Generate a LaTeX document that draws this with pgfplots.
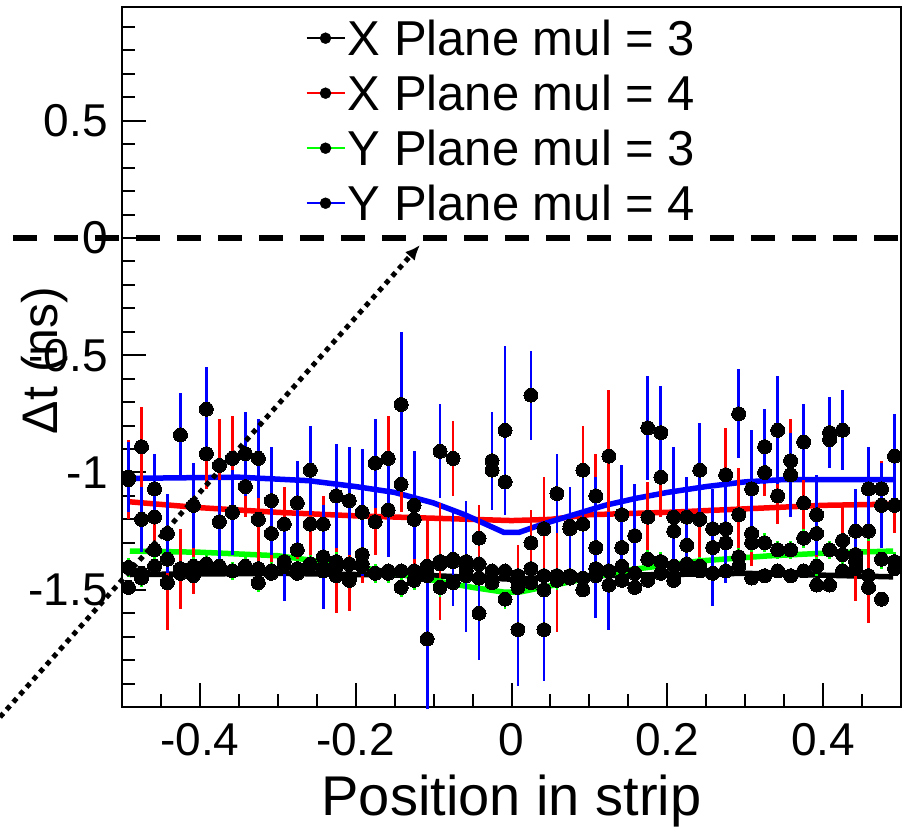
\documentclass[border=0pt]{standalone}
\usepackage{fontspec}
\setmainfont{Liberation Sans}
\usepackage{pgfplots}
\usepackage{pgfplotstable}
\pgfplotsset{compat=1.18}
\usetikzlibrary{arrows.meta}

\pgfplotstableread{
x y e
-0.4917 -1.02 0.15
-0.4750 -1.20 0.14
-0.4583 -1.07 0.15
-0.4417 -1.26 0.17
-0.4250 -0.84 0.18
-0.4083 -1.14 0.18
-0.3917 -0.73 0.18
-0.3750 -1.21 0.18
-0.3583 -1.17 0.18
-0.3417 -0.92 0.18
-0.3250 -0.94 0.17
-0.3083 -1.12 0.23
-0.2917 -1.38 0.17
-0.2750 -1.13 0.18
-0.2583 -0.99 0.19
-0.2417 -1.36 0.22
-0.2250 -1.10 0.22
-0.2083 -1.12 0.23
-0.1917 -1.17 0.27
-0.1750 -0.96 0.19
-0.1583 -1.16 0.20
-0.1417 -0.71 0.31
-0.1250 -1.14 0.23
-0.1083 -1.71 0.30
-0.0917 -0.91 0.20
-0.0750 -1.37 0.20
-0.0583 -1.40 0.28
-0.0417 -1.60 0.20
-0.0250 -0.95 0.21
-0.0083 -0.82 0.36
0.0083 -1.67 0.24
0.0250 -0.67 0.19
0.0417 -1.67 0.22
0.0583 -1.09 0.17
0.0750 -1.24 0.18
0.0917 -1.22 0.20
0.1083 -1.32 0.30
0.1250 -1.42 0.25
0.1417 -1.18 0.21
0.1583 -1.27 0.22
0.1750 -0.81 0.22
0.1917 -0.83 0.20
0.2083 -1.19 0.30
0.2250 -1.19 0.17
0.2417 -0.99 0.20
0.2583 -1.32 0.25
0.2750 -1.24 0.23
0.2917 -0.75 0.19
0.3083 -1.07 0.25
0.3250 -0.89 0.16
0.3417 -0.82 0.23
0.3583 -1.01 0.18
0.3750 -0.87 0.16
0.3917 -1.18 0.17
0.4083 -0.83 0.15
0.4250 -0.82 0.17
0.4417 -1.25 0.18
0.4583 -1.07 0.18
0.4750 -1.14 0.18
0.4917 -0.93 0.18
}\blueData

\pgfplotstableread{
x y e
-0.4917 -1.03 0.17
-0.4750 -0.89 0.17
-0.4583 -1.19 0.12
-0.4417 -1.47 0.20
-0.4250 -1.41 0.17
-0.4083 -1.42 0.10
-0.3917 -0.92 0.15
-0.3750 -0.97 0.20
-0.3583 -0.94 0.18
-0.3417 -1.06 0.13
-0.3250 -1.20 0.20
-0.3083 -1.26 0.15
-0.2917 -1.22 0.16
-0.2750 -1.33 0.13
-0.2583 -1.22 0.14
-0.2417 -1.22 0.12
-0.2250 -1.44 0.16
-0.2083 -1.46 0.13
-0.1917 -1.35 0.12
-0.1750 -1.21 0.14
-0.1583 -0.94 0.18
-0.1417 -1.05 0.12
-0.1250 -1.20 0.24
-0.1083 -1.40 0.20
-0.0917 -1.38 0.25
-0.0750 -0.94 0.16
-0.0583 -1.38 0.20
-0.0417 -1.28 0.14
-0.0250 -0.99 0.12
-0.0083 -1.04 0.13
0.0083 -1.47 0.16
0.0250 -1.30 0.14
0.0417 -1.24 0.22
0.0583 -1.44 0.24
0.0750 -1.23 0.14
0.0917 -0.99 0.19
0.1083 -1.10 0.18
0.1250 -0.93 0.28
0.1417 -1.32 0.10
0.1583 -1.27 0.15
0.1750 -1.19 0.15
0.1917 -1.02 0.17
0.2083 -1.25 0.12
0.2250 -1.31 0.12
0.2417 -1.20 0.16
0.2583 -1.24 0.14
0.2750 -1.01 0.20
0.2917 -1.18 0.20
0.3083 -1.26 0.14
0.3250 -1.00 0.10
0.3417 -1.10 0.12
0.3583 -0.95 0.18
0.3750 -1.13 0.12
0.3917 -1.26 0.16
0.4083 -0.86 0.12
0.4250 -1.29 0.16
0.4417 -1.38 0.17
0.4583 -1.44 0.20
0.4750 -1.07 0.12
0.4917 -1.14 0.12
}\redData

\pgfplotstableread{
x y e
-0.4917 -1.405 0.04
-0.4750 -1.45 0.04
-0.4583 -1.33 0.04
-0.4417 -1.37 0.04
-0.4250 -1.42 0.04
-0.4083 -1.40 0.04
-0.3917 -1.39 0.04
-0.3750 -1.40 0.04
-0.3583 -1.42 0.04
-0.3417 -1.40 0.04
-0.3250 -1.47 0.04
-0.3083 -1.42 0.04
-0.2917 -1.38 0.04
-0.2750 -1.41 0.04
-0.2583 -1.39 0.04
-0.2417 -1.41 0.04
-0.2250 -1.38 0.04
-0.2083 -1.45 0.04
-0.1917 -1.39 0.04
-0.1750 -1.43 0.04
-0.1583 -1.43 0.04
-0.1417 -1.49 0.04
-0.1250 -1.46 0.04
-0.1083 -1.44 0.04
-0.0917 -1.49 0.04
-0.0750 -1.47 0.04
-0.0583 -1.44 0.04
-0.0417 -1.45 0.04
-0.0250 -1.47 0.04
-0.0083 -1.54 0.04
0.0083 -1.49 0.04
0.0250 -1.47 0.04
0.0417 -1.50 0.04
0.0583 -1.46 0.04
0.0750 -1.44 0.04
0.0917 -1.45 0.04
0.1083 -1.41 0.04
0.1250 -1.48 0.04
0.1417 -1.40 0.04
0.1583 -1.43 0.04
0.1750 -1.37 0.04
0.1917 -1.38 0.04
0.2083 -1.40 0.04
0.2250 -1.39 0.04
0.2417 -1.40 0.04
0.2583 -1.43 0.04
0.2750 -1.30 0.04
0.2917 -1.36 0.04
0.3083 -1.30 0.04
0.3250 -1.30 0.04
0.3417 -1.33 0.04
0.3583 -1.33 0.04
0.3750 -1.28 0.04
0.3917 -1.40 0.04
0.4083 -1.33 0.04
0.4250 -1.35 0.04
0.4417 -1.35 0.04
0.4583 -1.25 0.04
0.4750 -1.37 0.04
0.4917 -1.38 0.04
}\greenData

\pgfplotstableread{
x y e
-0.4917 -1.49 0.03
-0.4750 -1.43 0.03
-0.4583 -1.40 0.03
-0.4417 -1.47 0.03
-0.4250 -1.43 0.03
-0.4083 -1.44 0.03
-0.3917 -1.41 0.03
-0.3750 -1.41 0.03
-0.3583 -1.42 0.03
-0.3417 -1.41 0.03
-0.3250 -1.41 0.03
-0.3083 -1.43 0.03
-0.2917 -1.40 0.03
-0.2750 -1.43 0.03
-0.2583 -1.40 0.03
-0.2417 -1.42 0.03
-0.2250 -1.40 0.03
-0.2083 -1.39 0.03
-0.1917 -1.40 0.03
-0.1750 -1.43 0.03
-0.1583 -1.42 0.03
-0.1417 -1.42 0.03
-0.1250 -1.42 0.03
-0.1083 -1.43 0.03
-0.0917 -1.39 0.03
-0.0750 -1.38 0.03
-0.0583 -1.42 0.03
-0.0417 -1.39 0.03
-0.0250 -1.42 0.03
-0.0083 -1.42 0.03
0.0083 -1.44 0.03
0.0250 -1.41 0.03
0.0417 -1.44 0.03
0.0583 -1.44 0.03
0.0750 -1.45 0.03
0.0917 -1.50 0.03
0.1083 -1.44 0.03
0.1250 -1.42 0.03
0.1417 -1.46 0.03
0.1583 -1.49 0.03
0.1750 -1.46 0.03
0.1917 -1.43 0.03
0.2083 -1.46 0.03
0.2250 -1.41 0.03
0.2417 -1.42 0.03
0.2583 -1.43 0.03
0.2750 -1.42 0.03
0.2917 -1.40 0.03
0.3083 -1.45 0.03
0.3250 -1.44 0.03
0.3417 -1.42 0.03
0.3583 -1.44 0.03
0.3750 -1.42 0.03
0.3917 -1.48 0.03
0.4083 -1.48 0.03
0.4250 -1.42 0.03
0.4417 -1.41 0.03
0.4583 -1.49 0.03
0.4750 -1.54 0.03
0.4917 -1.41 0.03
}\blackData

\pgfplotsset{
  pts/.style={only marks, mark=*, mark size=7pt,
    mark options={draw=black, fill=black, line width=0pt},
    error bars/.cd, y dir=both, y explicit, x dir=both, x fixed=0.0083,
    error mark=none,
    error bar style={#1, line width=2.8pt}},
}

\begin{document}
\begin{tikzpicture}[x=1pt,y=1pt]
\begin{axis}[
  at={(122pt,124pt)}, anchor=south west,
  width=779pt, height=700pt, scale only axis,
  xmin=-0.5, xmax=0.5, ymin=-2, ymax=0.985,
  clip=false,
  axis line style={line width=2.5pt},
  xtick={-0.4,-0.2,0,0.2,0.4},
  xticklabels={-0.4,-0.2,0,0.2,0.4},
  minor xtick={-0.45,-0.35,-0.3,-0.25,-0.15,-0.1,-0.05,0.05,0.1,0.15,0.25,0.3,0.35,0.45},
  ytick={-1.5,-1,-0.5,0,0.5},
  yticklabels={-1.5,-1,-0.5,0,0.5},
  minor ytick={-1.9,-1.8,-1.7,-1.6,-1.4,-1.3,-1.2,-1.1,-0.9,-0.8,-0.7,-0.6,-0.4,-0.3,-0.2,-0.1,0.1,0.2,0.3,0.4,0.6,0.7,0.8,0.9},
  tick align=inside, xtick pos=lower, ytick pos=left,
  major tick length=24pt, minor tick length=13pt,
  every tick/.style={black, line width=2pt},
  tick label style={font=\fontsize{46}{55}\selectfont, inner sep=0pt},
  xticklabel shift=16pt, yticklabel shift=14pt,
  xlabel={Position in strip},
  xlabel style={font=\fontsize{56}{64}\selectfont, at={(axis description cs:0.5,-0.135)}, anchor=center},
  ylabel={Δt (ns)},
  ylabel style={font=\fontsize{50}{58}\selectfont, at={(axis description cs:-0.100,0.495)}, anchor=center},
  legend style={at={(rel axis cs:0.235,0.985)}, anchor=north west, draw=none, fill=none,
    font=\fontsize{49}{56}\selectfont, inner sep=0pt, row sep=14pt,
    nodes={inner sep=2pt}},
  legend cell align=left,
]
\addlegendimage{legend image code/.code={\draw[black,line width=2.5pt](0pt,0pt)--(38pt,0pt);\fill[black](19pt,0pt) circle (5.5pt);}}
\addlegendentry{X Plane mul = 3}
\addlegendimage{legend image code/.code={\draw[red,line width=2.5pt](0pt,0pt)--(38pt,0pt);\fill[black](19pt,0pt) circle (5.5pt);}}
\addlegendentry{X Plane mul = 4}
\addlegendimage{legend image code/.code={\draw[green,line width=2.5pt](0pt,0pt)--(38pt,0pt);\fill[black](19pt,0pt) circle (5.5pt);}}
\addlegendentry{Y Plane mul = 3}
\addlegendimage{legend image code/.code={\draw[blue,line width=2.5pt](0pt,0pt)--(38pt,0pt);\fill[black](19pt,0pt) circle (5.5pt);}}
\addlegendentry{Y Plane mul = 4}

% fitted curves
\addplot[forget plot, black, line width=5.5pt] coordinates {
(-0.49,-1.435) (-0.3,-1.43) (-0.1,-1.44) (0,-1.455) (0.1,-1.44) (0.3,-1.43) (0.49,-1.445)};
\addplot[forget plot, red, line width=5.5pt] coordinates {
(-0.49,-1.125) (-0.4,-1.15) (-0.3,-1.17) (-0.2,-1.185) (-0.1,-1.195) (0,-1.205) (0.05,-1.2) (0.1,-1.18) (0.2,-1.17) (0.3,-1.155) (0.4,-1.14) (0.49,-1.135)};
\addplot[forget plot, green, line width=5.5pt] coordinates {
(-0.49,-1.335) (-0.4,-1.34) (-0.3,-1.355) (-0.2,-1.40) (-0.15,-1.43) (-0.1,-1.46) (-0.05,-1.49) (-0.01,-1.51) (0.01,-1.51) (0.07,-1.47) (0.156,-1.413) (0.242,-1.377) (0.328,-1.356) (0.414,-1.342) (0.49,-1.335)};
\addplot[forget plot, blue, line width=5.5pt] coordinates {
(-0.49,-1.025) (-0.35,-1.02) (-0.26,-1.035) (-0.2,-1.06) (-0.15,-1.085) (-0.1,-1.13) (-0.06,-1.18) (-0.03,-1.225) (-0.01,-1.255) (0.01,-1.255) (0.04,-1.22) (0.08,-1.18) (0.12,-1.14) (0.16,-1.11) (0.2,-1.085) (0.25,-1.06) (0.3,-1.04) (0.35,-1.03) (0.49,-1.03)};

% data points
\addplot[forget plot, pts=black] table[x=x, y=y, y error=e] {\blackData};
\addplot[forget plot, pts=red] table[x=x, y=y, y error=e] {\redData};
\addplot[forget plot, pts=green] table[x=x, y=y, y error=e] {\greenData};
\addplot[forget plot, pts=blue] table[x=x, y=y, y error=e] {\blueData};

% annotations
\draw[black, line width=5.5pt, dash pattern=on 24pt off 17pt] (axis cs:-0.6399,0) -- (axis cs:0.509,0);
\draw[black, line width=5pt, dash pattern=on 5pt off 5pt, -{Latex[length=15pt,width=13pt]}] (axis cs:-0.6566,-2.043) -- (axis cs:-0.1175,-0.03);
\end{axis}
\pgfresetboundingbox
\path[use as bounding box] (0,0) rectangle (908,831);
\end{tikzpicture}
\end{document}
